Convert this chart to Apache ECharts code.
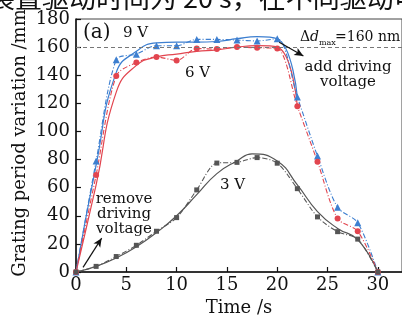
<!DOCTYPE html>
<html>
<head>
<meta charset="utf-8">
<script src="https://cdn.jsdelivr.net/npm/echarts@6/dist/echarts.min.js"></script>
<style>
  html, body { margin: 0; padding: 0; background: #fff; }
  #chart { width: 402px; height: 322px; }
</style>
</head>
<body>
<div id="chart"></div>
<script>
// 测量时间点 (s)
const times = [0, 2, 4, 6, 8, 10, 12, 14, 16, 18, 20, 22, 24, 26, 28, 30]

// 实测点：9 V / 6 V / 3 V
const v9Data = [0, 79, 151, 155, 161, 161, 165.5, 165.5, 165, 164.4, 166, 124.5, 82.5, 46, 35, 0]
const v6Data = [0, 69, 139.5, 149, 153, 150.5, 159, 158.6, 160, 159.5, 159, 118, 78.5, 38, 29, 0]
const v3Data = [0, 4, 11, 19, 29, 38.7, 58.4, 77.5, 78, 81.4, 77.4, 59.3, 39.2, 28.7, 23.4, 0]

// 拟合曲线
const v9FitT = [0, 2, 4, 6, 8, 10, 12, 14, 16, 18, 20, 22]
const v9Fit = [0, 76, 142, 157, 163, 163.5, 163.5, 164, 166, 167.5, 166, 124.5]
const v6FitT = [0, 2, 4, 6, 8, 10, 12, 14, 16, 18, 20, 22]
const v6Fit = [0, 62, 128, 147, 153, 155, 157, 158, 160, 161, 160, 118]
const v3FitT = [0, 2, 4, 6, 8, 10, 12, 14, 16, 17.5, 20, 22, 24, 26, 28, 30]
const v3Fit = [0, 4, 10, 18, 28, 40, 55, 70, 79, 84, 79, 62, 43, 31, 23, 0]

const dmax = 160

const BLUE = '#3d7fd0'
const RED = '#e2454f'
const GRAY = '#555555'
const FONT = 'DejaVu Serif'
const DASHDOT = [5, 2, 1, 2]

const pairs = (xs, ys) => xs.map((x, i) => [x, ys[i]])

const chart = echarts.init(document.getElementById('chart'))

const fitLine = (name, xs, ys, color) => ({
  name,
  type: 'line',
  data: pairs(xs, ys),
  smooth: 0.5,
  symbol: 'none',
  lineStyle: { width: 1.2, color },
  z: 2,
})

const dataLine = (name, ys, color, symbol, size) => ({
  name,
  type: 'line',
  data: pairs(times, ys),
  smooth: 0.3,
  symbol,
  symbolSize: size,
  itemStyle: { color },
  lineStyle: { width: 1.1, color, type: DASHDOT },
  z: 3,
})

const label = (text, x, y, extra) => ({
  type: 'text', x, y,
  style: Object.assign({ text, font: '15px "DejaVu Serif"', fill: '#111', verticalAlign: 'middle' }, extra),
})

chart.setOption({
  animation: false,
  grid: {
    left: 76,
    right: 0,
    top: 19,
    bottom: 44,
    show: true,
    borderColor: '#444',
    borderWidth: 1,
  },
  xAxis: {
    type: 'value',
    min: 0,
    max: 32.4,
    interval: 5,
    name: 'Time /s',
    nameLocation: 'middle',
    nameGap: 27,
    nameTextStyle: { fontFamily: FONT, fontSize: 18, color: '#111' },
    axisLine: { lineStyle: { color: '#111', width: 1.5 } },
    axisTick: { inside: true, length: 5, lineStyle: { color: '#111', width: 1.2 } },
    axisLabel: { fontFamily: FONT, fontSize: 18, color: '#111', margin: 4, showMaxLabel: false },
    splitLine: { show: false },
  },
  yAxis: {
    type: 'value',
    min: 0,
    max: 180,
    interval: 20,
    axisLine: { show: true, lineStyle: { color: '#111', width: 1.5 } },
    axisTick: { show: true, inside: true, length: 5, lineStyle: { color: '#111', width: 1.2 } },
    axisLabel: { fontFamily: FONT, fontSize: 18, color: '#111', margin: 6 },
    splitLine: { show: false },
  },
  series: [
    fitLine('9 V fit', v9FitT, v9Fit, BLUE),
    fitLine('6 V fit', v6FitT, v6Fit, RED),
    fitLine('3 V fit', v3FitT, v3Fit, GRAY),
    dataLine('9 V', v9Data, BLUE, 'triangle', 7),
    dataLine('6 V', v6Data, RED, 'circle', 6),
    {
      ...dataLine('3 V', v3Data, GRAY, 'rect', 5),
      markLine: {
        silent: true,
        symbol: ['none', 'none'],
        label: { show: false },
        lineStyle: { color: '#777', type: [4, 3], width: 1 },
        data: [{ yAxis: dmax }],
      },
    },
    {
      // 标注箭头
      type: 'line',
      data: [],
      markLine: {
        silent: true,
        symbol: ['none', 'arrow'],
        symbolSize: [6, 9],
        label: { show: false },
        lineStyle: { color: '#111', type: 'solid', width: 1.2 },
        data: [
          [{ coord: [0.7, 3.3] }, { coord: [2.55, 24.1] }],
          [{ coord: [20.2, 163.5] }, { coord: [22.6, 153.7] }],
        ],
      },
    },
  ],
  graphic: [
    {
      type: 'text', left: -12, top: -16,
      style: { text: '装置驱动时间为 20 s，在不同驱动电', font: '27px "Noto Sans CJK SC"', fill: '#111' },
    },
    {
      type: 'text', x: 20, y: 143, rotation: Math.PI / 2,
      style: { text: 'Grating period variation /mm', font: '18px "DejaVu Serif"', fill: '#111', align: 'center', verticalAlign: 'middle' },
    },
    label('(a)', 83, 33, { font: '20px "DejaVu Serif"' }),
    label('9 V', 123, 33),
    label('6 V', 185, 73),
    label('3 V', 220, 185),
    label('Δ', 300, 37, { font: '14px "DejaVu Serif"' }),
    label('d', 310, 37, { font: 'italic 14px "DejaVu Serif"' }),
    label('max', 319, 43, { font: '8px "DejaVu Serif"' }),
    label('=160 nm', 335, 37, { font: '14px "DejaVu Serif"' }),
    label('add driving', 348, 67, { align: 'center' }),
    label('voltage', 348, 82, { align: 'center' }),
    label('remove', 124, 199, { align: 'center' }),
    label('driving', 124, 214, { align: 'center' }),
    label('voltage', 124, 229, { align: 'center' }),
  ],
})
</script>
</body>
</html>
